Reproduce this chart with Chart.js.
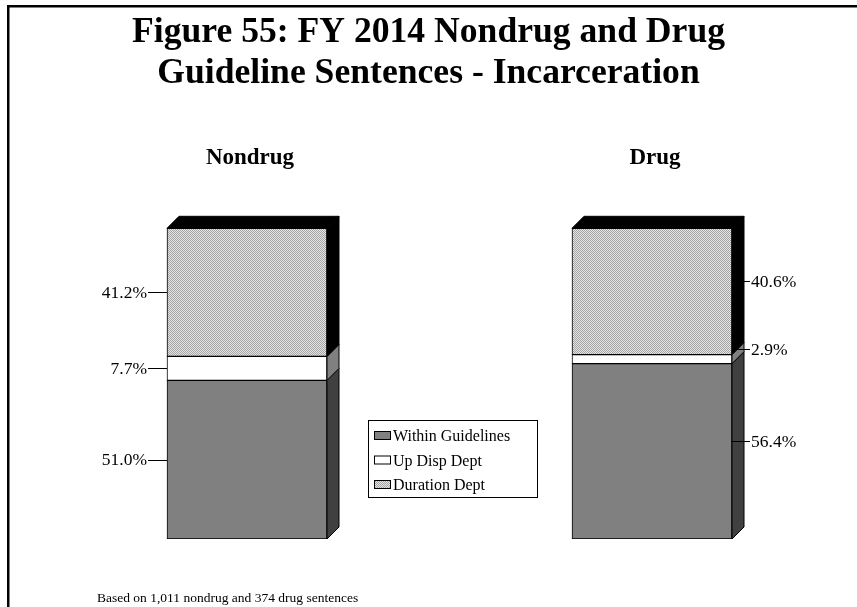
<!DOCTYPE html>
<html>
<head>
<meta charset="utf-8">
<script src="https://cdn.jsdelivr.net/npm/chart.js@4/dist/chart.umd.min.js"></script>
<style>
  html, body { margin: 0; padding: 0; background: #fff; }
  #wrap { width: 857px; height: 607px; position: relative; }
  canvas { display: block; }
</style>
</head>
<body>
<div id="wrap"><canvas id="c" width="857" height="607"></canvas></div>
<script>
// Sentence categories and their shares (percent of guideline sentences)
const groups = ['Nondrug', 'Drug'];
const seriesNames = ['Within Guidelines', 'Up Disp Dept', 'Duration Dept'];
const withinGuidelines = [51.0, 56.4];
const upDispDept = [7.7, 2.9];
const durationDept = [41.2, 40.6];
const valueLabels = [
  ['51.0%', '56.4%'],
  ['7.7%', '2.9%'],
  ['41.2%', '40.6%']
];
const titleLines = ['Figure 55: FY 2014 Nondrug and Drug', 'Guideline Sentences - Incarceration'];
const footnote = 'Based on 1,011 nondrug and 374 drug sentences';

const SERIF = '"Liberation Serif", "Times New Roman", serif';
const DEPTH = 12;

// Fine dithered fill for the "Duration Dept" segments
function makeDither() {
  const p = document.createElement('canvas');
  p.width = 2; p.height = 2;
  const g = p.getContext('2d');
  g.fillStyle = '#e4e4e4'; g.fillRect(0, 0, 2, 2);
  g.fillStyle = '#a4a4a4'; g.fillRect(0, 0, 1, 1); g.fillRect(1, 1, 1, 1);
  return g.createPattern(p, 'repeat');
}
const ctx0 = document.getElementById('c').getContext('2d');
const dither = makeDither();

const frontColors = ['#808080', '#ffffff', dither];
const sideColors = ['#404040', '#808080', '#000000'];
const topColor = '#000000';

// Side and top faces that give each stacked bar its depth
const depthFaces = {
  id: 'depthFaces',
  afterDatasetsDraw(chart) {
    const ctx = chart.ctx;
    const n = chart.data.datasets.length;
    ctx.save();
    ctx.lineWidth = 1;
    ctx.strokeStyle = '#000';
    for (let i = 0; i < n; i++) {
      const meta = chart.getDatasetMeta(i);
      meta.data.forEach((el) => {
        const left = el.x - el.width / 2, right = el.x + el.width / 2;
        const top = el.y, bottom = el.base;
        ctx.beginPath();
        ctx.moveTo(right, bottom);
        ctx.lineTo(right, top);
        ctx.lineTo(right + DEPTH, top - DEPTH);
        ctx.lineTo(right + DEPTH, bottom - DEPTH);
        ctx.closePath();
        ctx.fillStyle = sideColors[i];
        ctx.fill();
        ctx.stroke();
        if (i === n - 1) {
          ctx.beginPath();
          ctx.moveTo(left, top);
          ctx.lineTo(left + DEPTH, top - DEPTH);
          ctx.lineTo(right + DEPTH, top - DEPTH);
          ctx.lineTo(right, top);
          ctx.closePath();
          ctx.fillStyle = topColor;
          ctx.fill();
          ctx.stroke();
        }
      });
    }
    ctx.restore();
  }
};

// Titles, group headings, value labels, legend box, footnote and frame
const annotations = {
  id: 'annotations',
  beforeDraw(chart) {
    const ctx = chart.ctx;
    ctx.save();
    ctx.fillStyle = '#fff';
    ctx.fillRect(0, 0, chart.width, chart.height);
    ctx.restore();
  },
  afterDraw(chart) {
    const ctx = chart.ctx;
    ctx.save();

    // frame (top and left rules)
    ctx.fillStyle = '#000';
    ctx.fillRect(7, 5, 850, 2.5);
    ctx.fillRect(7, 5, 2.5, 602);

    // title, slightly condensed
    ctx.font = 'bold 36px ' + SERIF;
    ctx.textBaseline = 'alphabetic';
    ctx.textAlign = 'center';
    const sx = 593 / ctx.measureText(titleLines[0]).width;
    const baselines = [42, 83];
    titleLines.forEach((t, k) => {
      ctx.save();
      ctx.translate(428.5, baselines[k]);
      ctx.scale(sx, 1);
      ctx.fillText(t, 0, 0);
      ctx.restore();
    });

    // group headings above each bar
    ctx.font = 'bold 23px ' + SERIF;
    const base = chart.getDatasetMeta(0).data;
    base.forEach((el, j) => {
      ctx.fillText(groups[j], el.x + 3, 164);
    });

    // value labels with leader ticks
    ctx.font = '17.5px ' + SERIF;
    ctx.textBaseline = 'middle';
    ctx.strokeStyle = '#000';
    ctx.lineWidth = 1;
    chart.data.datasets.forEach((ds, i) => {
      chart.getDatasetMeta(i).data.forEach((el, j) => {
        const left = el.x - el.width / 2, right = el.x + el.width / 2;
        const mid = (el.y + el.base) / 2;
        ctx.beginPath();
        if (j === 0) {
          const y = Math.round(mid) + 0.5;
          ctx.moveTo(left - 19, y); ctx.lineTo(left, y);
          ctx.stroke();
          ctx.textAlign = 'right';
          ctx.fillText(valueLabels[i][j], left - 20, mid + 1);
        } else {
          const y = Math.round(mid - 10) + 0.5;
          ctx.moveTo(right, y); ctx.lineTo(right + 18, y);
          ctx.stroke();
          ctx.textAlign = 'left';
          ctx.fillText(valueLabels[i][j], right + 19, mid - 9);
        }
      });
    });

    // legend box
    ctx.fillStyle = '#fff';
    ctx.fillRect(368, 420, 169, 77);
    ctx.strokeStyle = '#000';
    ctx.strokeRect(368.5, 420.5, 169, 77);
    ctx.font = '16px ' + SERIF;
    ctx.textAlign = 'left';
    ctx.textBaseline = 'alphabetic';
    const rowBase = [441, 465.5, 490];
    seriesNames.forEach((name, i) => {
      const b = rowBase[i];
      ctx.fillStyle = frontColors[i];
      ctx.fillRect(374, b - 10, 17, 9);
      ctx.strokeStyle = '#000';
      ctx.strokeRect(374.5, b - 9.5, 16, 8);
      ctx.fillStyle = '#000';
      ctx.fillText(name, 393, b);
    });

    // footnote
    ctx.font = '13.5px ' + SERIF;
    ctx.fillText(footnote, 97, 602);

    ctx.restore();
  }
};

new Chart(ctx0, {
  type: 'bar',
  data: {
    labels: groups,
    datasets: [
      { label: seriesNames[0], data: withinGuidelines, backgroundColor: frontColors[0] },
      { label: seriesNames[1], data: upDispDept, backgroundColor: frontColors[1] },
      { label: seriesNames[2], data: durationDept, backgroundColor: frontColors[2] }
    ].map(d => Object.assign(d, { borderColor: '#000', borderWidth: 1, borderSkipped: false, barThickness: 160 }))
  },
  options: {
    responsive: false,
    animation: false,
    events: [],
    devicePixelRatio: 1,
    layout: { padding: { left: 44.5, right: 2.5, top: 228, bottom: 68 } },
    scales: {
      x: { stacked: true, display: false },
      y: { stacked: true, display: false, min: 0, max: 100 }
    },
    plugins: {
      legend: { display: false },
      title: { display: false },
      tooltip: { enabled: false }
    }
  },
  plugins: [depthFaces, annotations]
});
</script>
</body>
</html>
